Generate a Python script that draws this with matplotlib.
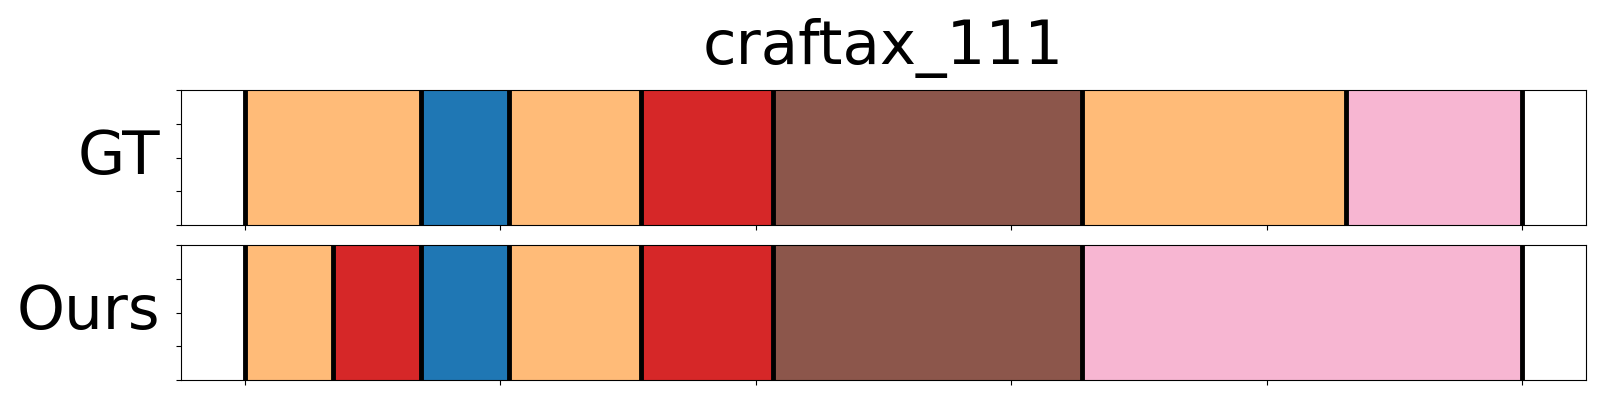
#!/usr/bin/env python3
import numpy as np
import matplotlib
matplotlib.use("Agg")
import matplotlib.pyplot as plt


title = "craftax_111"
row_names = ["GT", "Ours"]

# segment lengths in steps, and the colour of each segment
gt_steps = [4, 2, 3, 3, 7, 6, 4]
gt_colors = ["#ffbb78", "#1f77b4", "#ffbb78", "#d62728", "#8c564b", "#ffbb78", "#f7b6d2"]
ours_steps = [2, 2, 2, 3, 3, 7, 10]
ours_colors = ["#ffbb78", "#d62728", "#1f77b4", "#ffbb78", "#d62728", "#8c564b", "#f7b6d2"]


def draw_row(ax, steps, colors, name) -> None:
    steps = np.array(steps, dtype=float)
    frac = steps / steps.sum()
    edges = np.concatenate([[0.0], np.cumsum(frac)])
    ax.barh(0.5, frac, left=edges[:-1], height=1.0, color=colors, edgecolor="none")
    for e in edges:
        ax.axvline(e, color="black", lw=3.5)
    ax.set_xlim(-0.05, 1.05)
    ax.set_ylim(0, 1)
    ax.set_yticks(np.linspace(0, 1, 5))
    ax.set_yticklabels([])
    ax.set_xticks(np.linspace(0, 1, 6))
    ax.set_xticklabels([])
    ax.set_ylabel(name, fontsize=44, rotation=0, ha="right", va="center")
    ax.yaxis.set_label_coords(-0.015, 0.5)


fig = plt.figure(figsize=(16, 4), dpi=100)
ax_gt = fig.add_axes([0.1131, 0.4375, 0.87815, 0.3375])
ax_ours = fig.add_axes([0.1131, 0.05, 0.87815, 0.3375])

draw_row(ax_gt, gt_steps, gt_colors, row_names[0])
draw_row(ax_ours, ours_steps, ours_colors, row_names[1])

ax_gt.set_title(title, fontsize=44, pad=19)

fig.savefig("out.png", dpi=100)
plt.close(fig)
